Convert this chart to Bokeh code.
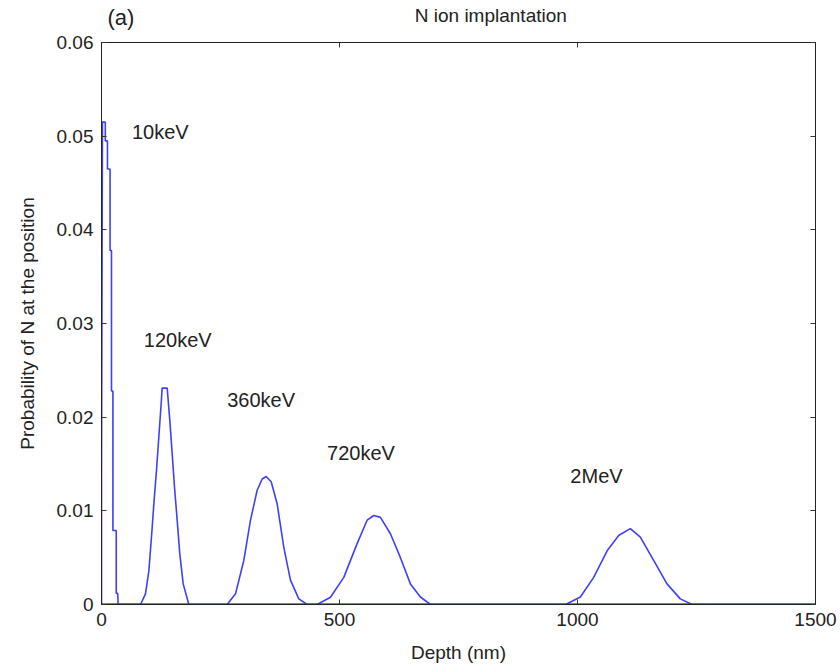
from bokeh.plotting import figure
from bokeh.models import Range1d, LinearAxis, FixedTicker, Label
from bokeh.layouts import column
from bokeh.embed import file_html
from bokeh.resources import INLINE

# ---- data ----
depth_10kev = [0, 0, 2, 8, 8, 12.5, 12.5, 18, 18, 21, 21, 24, 24, 31, 31, 34, 35, 1500]
prob_10kev = [0, 0.0136, 0.0515, 0.0515, 0.0495, 0.0495, 0.0465, 0.0465, 0.0378, 0.0378,
              0.0228, 0.0228, 0.0079, 0.0079, 0.0012, 0.0012, 0, 0]

depth_120kev = [0, 82, 92.4, 99.5, 105, 110, 115.5, 120.4, 125.3, 127.4, 138, 143.6, 148.5,
                153.4, 159, 164.5, 171.6, 183.5, 1500]
prob_120kev = [0, 0, 0.00114, 0.0036, 0.0072, 0.01075, 0.0143, 0.01786, 0.0214, 0.0231,
               0.0231, 0.0196, 0.0161, 0.0125, 0.0090, 0.0054, 0.0022, 0, 0]

depth_360kev = [0, 264, 281.5, 299, 313, 327, 337.5, 346, 356.5, 369, 383, 397, 414.5, 432, 1500]
prob_360kev = [0, 0, 0.00114, 0.0047, 0.0090, 0.0122, 0.0134, 0.01366, 0.0131, 0.01075,
               0.0061, 0.0026, 0.0006, 0, 0]

depth_720kev = [0, 453, 481, 509, 537, 558, 572, 586, 607, 628, 649, 670, 691, 1500]
prob_720kev = [0, 0, 0.00078, 0.0029, 0.0065, 0.0090, 0.0095, 0.0093, 0.00755, 0.0050,
               0.0022, 0.0008, 0, 0]

depth_2mev = [0, 975, 1006, 1034, 1063, 1087, 1111, 1132, 1160, 1188, 1216, 1241, 1500]
prob_2mev = [0, 0, 0.0008, 0.0029, 0.0058, 0.0074, 0.0081, 0.0072, 0.0047, 0.0022, 0.0006, 0, 0]

energy_labels = ["10keV", "120keV", "360keV", "720keV", "2MeV"]
label_depth = [64, 89, 264, 474, 985]
label_prob = [0.0504, 0.0282, 0.0218, 0.0162, 0.0137]

x_ticks = [0, 500, 1000, 1500]
y_ticks = [0, 0.01, 0.02, 0.03, 0.04, 0.05, 0.06]
y_tick_labels = ["0", "0.01", "0.02", "0.03", "0.04", "0.05", "0.06"]

title_text = "N ion implantation"
panel_text = "(a)"
x_label = "Depth (nm)"
y_label = "Probability of N at the position"

FONT = "Liberation Sans"
FS = "19px"
TXT = "#222222"
LINE = "#2a2aff"

W, H = 840, 671
HEAD = 30

# header strip holding the panel letter and the title (pixel-sized ranges)
head = figure(width=W, height=HEAD, output_backend="svg", toolbar_location=None,
              x_range=Range1d(0, W), y_range=Range1d(0, HEAD),
              x_axis_location=None, y_axis_location=None, min_border=0)
head.grid.visible = False
head.outline_line_color = None
head.background_fill_color = "white"
head.border_fill_color = "white"
head.add_layout(Label(x=458, y=HEAD - 15, text=title_text, text_font=FONT,
                      text_font_size=FS, text_color=TXT,
                      text_baseline="middle", text_align="center"))
head.add_layout(Label(x=7, y=HEAD - 17, text=panel_text, text_font=FONT,
                      text_font_size="22px", text_color=TXT,
                      text_baseline="middle", text_align="left"))

p = figure(width=W, height=H - HEAD, output_backend="svg", toolbar_location=None,
           x_range=Range1d(0, 1500), y_range=Range1d(0, 0.06),
           min_border_left=101, min_border_right=25, min_border_top=42 - HEAD,
           min_border_bottom=67)
p.background_fill_color = "white"
p.border_fill_color = "white"
p.grid.visible = False
p.outline_line_color = TXT
p.outline_line_width = 1

for xs, ys in [(depth_10kev, prob_10kev), (depth_120kev, prob_120kev),
               (depth_360kev, prob_360kev), (depth_720kev, prob_720kev),
               (depth_2mev, prob_2mev)]:
    p.line(xs, ys, line_color=LINE, line_width=1.6, line_alpha=0.9)

def style(ax, labels=True):
    ax.major_tick_in = 5
    ax.major_tick_out = 0
    ax.minor_tick_line_color = None
    ax.major_tick_line_color = "#333333"
    ax.axis_line_color = TXT
    ax.major_label_text_font = FONT
    if labels:
        ax.major_label_text_font_size = FS
        ax.major_label_text_color = TXT
    else:
        ax.major_label_text_font_size = "1px"
        ax.major_label_text_color = None
        ax.major_label_standoff = 0

xa = p.xaxis[0]
ya = p.yaxis[0]
xa.ticker = FixedTicker(ticks=x_ticks)
ya.ticker = FixedTicker(ticks=y_ticks)
ya.major_label_overrides = {t: s for t, s in zip(y_ticks, y_tick_labels)}
style(xa)
style(ya)
xa.major_label_standoff = 8
ya.major_label_standoff = 8
xa.axis_label = x_label
ya.axis_label = y_label
for ax in (xa, ya):
    ax.axis_label_text_font = FONT
    ax.axis_label_text_font_size = FS
    ax.axis_label_text_font_style = "normal"
    ax.axis_label_text_color = TXT
xa.axis_label_standoff = 13
ya.axis_label_standoff = 16

top = LinearAxis(ticker=FixedTicker(ticks=x_ticks))
right = LinearAxis(ticker=FixedTicker(ticks=y_ticks))
style(top, labels=False)
style(right, labels=False)
p.add_layout(top, "above")
p.add_layout(right, "right")

for t, x, y in zip(energy_labels, label_depth, label_prob):
    p.add_layout(Label(x=x, y=y, text=t, text_font=FONT, text_font_size="20px",
                       text_color=TXT, text_baseline="middle", text_align="left"))

layout = column(head, p, spacing=0)
open("out.html", "w").write(file_html(layout, INLINE))
